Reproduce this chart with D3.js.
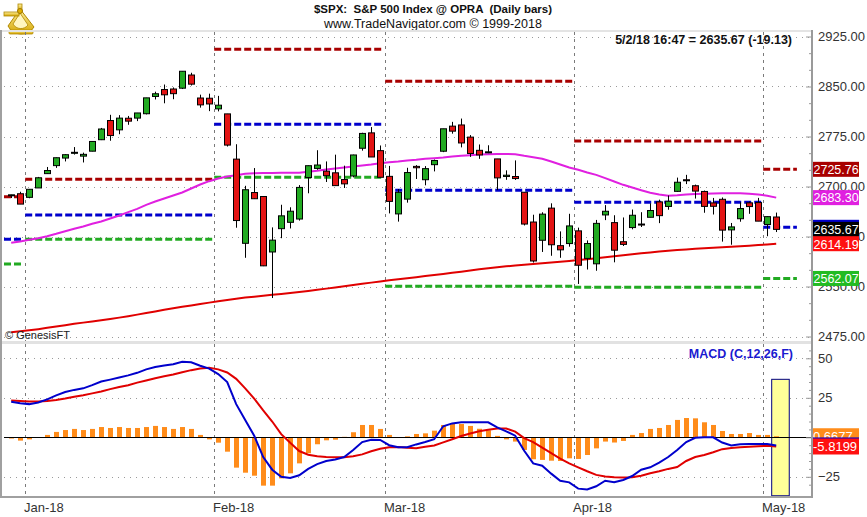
<!DOCTYPE html>
<html><head><meta charset="utf-8">
<script src="https://cdn.jsdelivr.net/npm/d3@7"></script>
<style>body{margin:0;background:#fff;} svg{display:block;font-family:"Liberation Sans",Arial,sans-serif;}</style>
</head><body><svg id="c" width="867" height="517"></svg>
<script>
// ---------------- DATA ----------------
const dates = ['2017-12-28','2017-12-29','2018-01-02','2018-01-03','2018-01-04','2018-01-05','2018-01-08','2018-01-09','2018-01-10','2018-01-11','2018-01-12','2018-01-16','2018-01-17','2018-01-18','2018-01-19','2018-01-22','2018-01-23','2018-01-24','2018-01-25','2018-01-26','2018-01-29','2018-01-30','2018-01-31',
'2018-02-01','2018-02-02','2018-02-05','2018-02-06','2018-02-07','2018-02-08','2018-02-09','2018-02-12','2018-02-13','2018-02-14','2018-02-15','2018-02-16','2018-02-20','2018-02-21','2018-02-22','2018-02-23','2018-02-26','2018-02-27','2018-02-28',
'2018-03-01','2018-03-02','2018-03-05','2018-03-06','2018-03-07','2018-03-08','2018-03-09','2018-03-12','2018-03-13','2018-03-14','2018-03-15','2018-03-16','2018-03-19','2018-03-20','2018-03-21','2018-03-22','2018-03-23','2018-03-26','2018-03-27','2018-03-28','2018-03-29',
'2018-04-02','2018-04-03','2018-04-04','2018-04-05','2018-04-06','2018-04-09','2018-04-10','2018-04-11','2018-04-12','2018-04-13','2018-04-16','2018-04-17','2018-04-18','2018-04-19','2018-04-20','2018-04-23','2018-04-24','2018-04-25','2018-04-26','2018-04-27','2018-04-30',
'2018-05-01','2018-05-02'];

const opens = [2686.10,2689.15,2683.73,2697.85,2719.31,2731.33,2742.67,2751.15,2745.55,2752.97,2770.18,2798.96,2784.99,2802.40,2802.60,2809.16,2835.05,2845.42,2846.24,2847.48,2867.23,2832.74,2832.41,
2816.45,2808.92,2741.06,2614.78,2690.95,2685.01,2601.78,2636.75,2646.27,2651.21,2713.46,2727.14,2722.99,2720.53,2710.42,2715.80,2757.37,2780.45,2753.78,
2715.22,2658.89,2681.06,2730.18,2710.18,2732.75,2752.91,2790.54,2792.31,2774.06,2754.27,2750.57,2741.38,2715.05,2714.99,2691.36,2646.71,2619.35,2667.57,2611.30,2614.41,
2633.45,2592.17,2584.04,2657.36,2645.82,2617.18,2638.41,2643.69,2653.83,2676.90,2670.10,2692.74,2710.11,2701.16,2692.56,2675.40,2680.80,2634.92,2651.65,2675.47,2675.90,
2642.96,2654.24];
const highs = [2687.66,2692.12,2695.89,2714.37,2729.29,2743.45,2748.51,2759.14,2750.80,2767.56,2787.85,2807.54,2807.04,2805.83,2810.33,2833.03,2842.24,2852.97,2848.56,2872.87,2870.62,2837.75,2839.26,
2835.96,2808.92,2763.39,2701.04,2727.67,2685.27,2638.67,2672.61,2668.84,2702.10,2731.51,2754.42,2737.60,2747.75,2731.26,2747.76,2780.64,2789.15,2761.52,
2730.89,2696.25,2728.09,2732.08,2730.60,2740.45,2786.57,2796.98,2801.90,2777.11,2763.03,2761.85,2741.38,2724.22,2739.14,2691.36,2657.67,2661.36,2674.78,2632.65,2659.07,
2638.30,2619.14,2649.86,2672.08,2656.88,2653.55,2665.45,2661.43,2674.72,2680.26,2686.49,2713.34,2717.49,2702.84,2693.94,2682.86,2683.55,2645.30,2676.48,2677.35,2682.92,
2655.27,2660.87];
const lows = [2682.69,2673.61,2682.36,2697.77,2719.07,2727.92,2737.60,2747.86,2736.06,2752.78,2769.64,2768.64,2778.38,2792.56,2798.08,2808.12,2830.59,2824.81,2830.94,2846.18,2851.48,2818.27,2813.04,
2812.70,2759.97,2638.17,2593.07,2681.33,2580.56,2532.69,2622.45,2637.08,2648.87,2689.82,2725.11,2706.76,2701.29,2697.77,2713.74,2753.78,2744.22,2713.54,
2659.65,2647.32,2675.75,2711.26,2701.74,2722.65,2751.54,2779.26,2758.68,2744.38,2741.47,2749.97,2694.59,2710.05,2709.79,2641.59,2585.89,2601.81,2596.12,2593.06,2609.72,
2553.80,2575.49,2573.61,2649.58,2586.27,2610.79,2635.78,2639.25,2653.83,2645.05,2665.16,2692.05,2703.63,2681.90,2660.61,2657.99,2617.32,2612.67,2647.16,2659.01,2648.04,
2625.41,2631.70];
const closes = [2687.54,2673.61,2695.81,2713.06,2723.99,2743.15,2747.71,2751.29,2748.23,2767.56,2786.24,2776.42,2802.56,2798.03,2810.30,2832.97,2839.13,2837.54,2839.25,2872.87,2853.53,2822.43,2823.81,
2821.98,2762.13,2648.94,2695.14,2681.66,2581.00,2619.55,2656.00,2662.94,2698.63,2731.20,2732.22,2716.26,2701.33,2703.96,2747.30,2779.60,2744.28,2713.83,
2677.67,2691.25,2720.94,2728.12,2726.80,2738.97,2786.57,2783.02,2765.31,2749.48,2747.33,2752.01,2712.92,2716.94,2711.93,2643.69,2588.26,2658.55,2612.62,2605.00,2640.87,
2581.88,2614.45,2644.69,2662.84,2604.47,2613.16,2656.87,2642.19,2663.99,2656.30,2677.84,2706.39,2708.64,2693.13,2670.14,2670.29,2634.56,2639.40,2666.94,2669.91,2648.05,
2654.80,2635.67];

const ma50 = [2615.7,2617.5,2620,2622.5,2625.5,2629,2633,2636.5,2640,2644,2647.5,2652,2656.5,2661.5,2666.5,2672.5,2677.5,2682,2686.5,2691,2697,2703,2708,
2712,2715,2717,2719,2720,2720.2,2720.4,2720.5,2720.6,2720.7,2722,2723.5,2725.5,2727,2728.5,2730,2731.5,2733,2735,
2736.5,2737.5,2739,2740,2741.5,2742.5,2743.5,2745,2746,2747,2748,2748.5,2748.7,2748.8,2748.5,2746,2744,2741.5,2737.5,2733,2728.5,
2725,2721,2717.5,2712.5,2707.5,2702.5,2698.5,2694.5,2690.5,2688,2686.3,2687,2688,2688.7,2689.2,2689.5,2689.8,2689.8,2689.8,2689,2688,
2686,2683.3];
const ma200 = [2481.2,2482.7,2484.2,2486,2488,2490,2492,2494,2495.8,2497.6,2499.4,2501.3,2503.3,2505.5,2507.8,2510.2,2512.6,2515,2517.3,2519.5,2521.6,2523.7,2525.8,
2527.8,2529.8,2531.7,2533.4,2534.8,2536.2,2537.6,2538.9,2540.2,2541.6,2543.2,2545,2546.8,2548.6,2550.4,2552.2,2554,2555.8,2557.6,
2559.2,2560.8,2562.4,2564,2565.6,2567.2,2568.9,2570.6,2572.3,2574,2575.7,2577.3,2578.9,2580.2,2581.5,2582.7,2583.9,2585,2586.1,2587.2,2588.4,
2589.6,2591,2592.4,2593.8,2595.2,2596.7,2598.2,2599.7,2601.1,2602.4,2603.6,2604.6,2605.6,2606.5,2607.3,2608.1,2608.9,2609.7,2610.5,2611.3,2612.1,
2613.1,2614.19];

const macdLine = [22.5,21.5,21,22,24,26.5,28.7,30,31,33,35.3,36.5,37.8,39.2,40.8,43,44.5,45.5,46.3,47.8,47.5,45.3,43.5,
40,35,21,11,1,-12.5,-20.5,-25,-25.8,-24,-20,-17,-15,-14,-12.5,-8,-3,-1.5,-1.7,
-5,-6.3,-6.3,-4.5,-3,-1.2,7,8.8,9.5,9.5,9.5,9.5,6.3,3.8,1,-8.5,-16.5,-18,-23,-27.5,-28.5,
-32.5,-33,-31,-27.5,-28.5,-27,-24.5,-20.5,-19,-16,-12.5,-8,-3,-0.3,0,0,-3.3,-5.2,-4.4,-4.2,-4.2,
-4.3,-5.152];
const signalLine = [23.3,23,22.6,22.6,23,23.6,24.5,25.6,26.6,27.8,29,30.5,31.8,33,34.6,36,37.4,38.6,39.8,41.2,42.5,43.6,44,
43,41,37,31,24.5,17,10,2,-3.5,-8.7,-11,-12,-12.4,-12.6,-12.7,-12,-10.8,-8.8,-7.2,
-6.3,-6.2,-6.6,-6.9,-6,-5.2,-3.2,-1.2,0.8,2.4,3.8,4.8,5.5,5.6,3.6,-0.5,-3,-6.5,-10,-13.5,-16.5,
-19,-21.5,-23.8,-24.8,-25.3,-25.4,-25.3,-24.3,-22.8,-21.5,-20,-18.8,-15,-12.5,-11.2,-9.5,-7.5,-6.8,-6.3,-6,-5.7,
-5.3,-5.8199];
const histogram = [-0.8,-2.1,-1.3,-0.3,1.5,3.4,4.6,5.3,4.6,5.3,6.5,5.9,6.5,5.9,5.9,6.5,7.2,6.5,5.3,6.5,5.3,1.5,-1.3,
-3.4,-9.1,-19.2,-22.4,-24.3,-30.6,-30.6,-26,-22.8,-16.5,-10.1,-4.4,-1.9,-1.5,0.3,3.2,7.8,7.8,5.3,
1.5,0,0.6,2.1,2.5,4.2,7.8,8.9,8.4,7.2,5.4,4.4,0.9,-1.3,-2.7,-8,-13.9,-14.3,-14.8,-15,-13.3,
-13.7,-11.2,-7,-2.7,-3.3,-2.3,1.5,2.7,5.3,5.9,7.8,11,12.2,12,9.5,7.8,4,2.1,2.1,2.7,1.5,
1.5,0.6677];

// monthly pivot levels (R1, pivot, S1)
const pivotMonthStarts = ['2017-12-28','2018-01-02','2018-02-01','2018-03-01','2018-04-02','2018-05-01'];
const pivotR1 = [2684.7,2710.8,2905.8,2857.8,2768.3,2725.76];
const pivotPP = [2620.8,2657.3,2793.3,2694.3,2676.3,2638.8];
const pivotS1 = [2583.8,2620.8,2713.8,2550.3,2548.8,2562.07];

const monthLabels = ['Jan-18','Feb-18','Mar-18','Apr-18','May-18'];
const monthStarts = ['2018-01-02','2018-02-01','2018-03-01','2018-04-02','2018-05-01'];
const priceTicks = [2475,2550,2625,2700,2775,2850,2925];
const macdTicks = [-25,0,25,50];
const priceTagValues = [2725.76,2683.30,2638.8,2635.67,2614.19,2562.07];
const priceTagTexts  = ['2725.76','2683.30','','2635.67','2614.19','2562.07'];
const macdTagValues = [0.6677,-5.152,-5.8199];
const macdTagTexts  = ['0.6677','','-5.8199'];
const highlightDate = '2018-05-02';
const highlightRange = [-37, 36.7];
const titleLine1 = '$SPX:  S&P 500 Index @ OPRA  (Daily bars)';
const titleLine2 = 'www.TradeNavigator.com \u00A9 1999-2018';
const lastQuote = '5/2/18 16:47 = 2635.67 (-19.13)';
const macdTitle = 'MACD (C,12,26,F)';
const copyright = '\u00A9 GenesisFT';

// ---------------- LAYOUT / STYLE ----------------
const svg = d3.select('#c');
const L = 4, R = 811, axisX = 812;
const P_TOP = 32, P_BOT = 341, M_TOP = 344, M_BOT = 496;
const idx = d3.range(dates.length);
const x = d3.scalePoint().domain(dates).range([11.2, 776.2]);
const step = x.step();
const yP = d3.scaleLinear().domain([2475, 2925]).range([336.5, 36.5]);
const yM = d3.scaleLinear().domain([-25, 50]).range([476.8, 358.3]);
const C = {green:'#22aa22', red:'#e31414', dkred:'#a80000', blue:'#0000cc', magenta:'#e020e0', orange:'#ff8c1a', grid:'#9a9a9a', text:'#333'};

svg.append('rect').attr('width',867).attr('height',517).attr('fill','#fff');

// logo (sextant)
const logo = svg.append('g').attr('transform','translate(3,3)');
const grad = svg.append('defs').append('linearGradient').attr('id','gold').attr('x1',0).attr('y1',0).attr('x2',0).attr('y2',1);
grad.append('stop').attr('offset','0').attr('stop-color','#fff1a0');
grad.append('stop').attr('offset','1').attr('stop-color','#d4a500');
logo.append('path').attr('d','M17,6 L5,23 A15,15 0 0 0 31,24 Z').attr('fill','url(#gold)').attr('stroke','#b08800').attr('stroke-width',1);
logo.append('path').attr('d','M10,21 A9,9 0 0 0 25,22 L17,10 Z').attr('fill','#fff6c0').attr('stroke','#b08800').attr('stroke-width',0.8);
logo.append('rect').attr('x',1).attr('y',9).attr('width',15).attr('height',4).attr('fill','url(#gold)').attr('stroke','#b08800').attr('stroke-width',0.8);
logo.append('rect').attr('x',15).attr('y',1).attr('width',4).attr('height',7).attr('fill','url(#gold)').attr('stroke','#b08800').attr('stroke-width',0.8);
logo.append('circle').attr('cx',17).attr('cy',8).attr('r',2.5).attr('fill','#e0b000').attr('stroke','#a07800');
logo.append('rect').attr('x',6).attr('y',27).attr('width',24).attr('height',4).attr('rx',1).attr('fill','url(#gold)').attr('stroke','#b08800').attr('stroke-width',0.8);

// titles
svg.append('text').attr('x',433).attr('y',13).attr('text-anchor','middle').attr('font-size',11.5).attr('font-weight','bold').attr('fill','#111').style('white-space','pre').text(titleLine1);
svg.append('text').attr('x',433).attr('y',28).attr('text-anchor','middle').attr('font-size',12.5).attr('fill','#111').text(titleLine2);

// frames
svg.append('line').attr('x1',0).attr('x2',axisX).attr('y1',P_TOP-1).attr('y2',P_TOP-1).attr('stroke','#e4e4e4').attr('stroke-width',2);
svg.append('rect').attr('x',0).attr('y',P_BOT).attr('width',axisX).attr('height',3).attr('fill','#e2e2e2');
svg.append('line').attr('x1',1).attr('x2',1).attr('y1',P_TOP-2).attr('y2',M_BOT+1).attr('stroke','#a0a0a0').attr('stroke-width',2);
svg.append('line').attr('x1',0).attr('x2',axisX+1).attr('y1',M_BOT+1).attr('y2',M_BOT+1).attr('stroke','#a0a0a0').attr('stroke-width',2);

// clips
const defs = svg.append('defs');
defs.append('clipPath').attr('id','cp').append('rect').attr('x',L).attr('y',P_TOP).attr('width',R-L).attr('height',P_BOT-P_TOP);
defs.append('clipPath').attr('id','cm').append('rect').attr('x',L).attr('y',M_TOP).attr('width',R-L).attr('height',M_BOT-M_TOP);

const gp = svg.append('g').attr('clip-path','url(#cp)');
const gm = svg.append('g').attr('clip-path','url(#cm)');

// grids
gp.selectAll('line.hg').data(priceTicks).join('line').attr('class','hg')
  .attr('x1',L).attr('x2',R).attr('y1',d=>Math.round(yP(d))+0.5).attr('y2',d=>Math.round(yP(d))+0.5)
  .attr('stroke',C.grid).attr('stroke-dasharray','1,5');
gm.selectAll('line.hg').data(macdTicks.filter(d=>d!==0)).join('line').attr('class','hg')
  .attr('x1',L).attr('x2',R).attr('y1',d=>Math.round(yM(d))+0.5).attr('y2',d=>Math.round(yM(d))+0.5)
  .attr('stroke',C.grid).attr('stroke-dasharray','1,5');
const monthX = d => Math.round(x(d) - step/2) + 0.5;
[gp, gm].forEach((g,i)=>{
  g.selectAll('line.vg').data(monthStarts).join('line').attr('class','vg')
   .attr('x1',monthX).attr('x2',monthX).attr('y1',i?M_TOP:P_TOP).attr('y2',i?M_BOT:P_BOT)
   .attr('stroke','#7a7a7a').attr('stroke-dasharray','3,4');
});

// pivot dashed segments
const segs = pivotMonthStarts.map((d,i)=>{
  const x0 = i===0 ? L : x(d) - step/2 + 0.5;
  const x1 = i < pivotMonthStarts.length-1 ? x(pivotMonthStarts[i+1]) - step/2 - 1.5 : x(dates[dates.length-1]) + step*2.3;
  return {x0, x1, r1:pivotR1[i], pp:pivotPP[i], s1:pivotS1[i]};
});
[['r1',C.dkred],['pp',C.blue],['s1',C.green]].forEach(([k,col])=>{
  gp.selectAll('line.pv'+k).data(segs).join('line').attr('class','pv'+k)
    .attr('x1',d=>d.x0).attr('x2',d=>d.x1).attr('y1',d=>yP(d[k])).attr('y2',d=>yP(d[k]))
    .attr('stroke',col).attr('stroke-width',3).attr('stroke-dasharray','7,3');
});

// moving averages
const lineP = arr => d3.line().x(i=>x(dates[i])).y(i=>yP(arr[i]))(idx);
gp.append('path').attr('d',lineP(ma200)).attr('fill','none').attr('stroke','#e00000').attr('stroke-width',2);
gp.append('path').attr('d',lineP(ma50)).attr('fill','none').attr('stroke',C.magenta).attr('stroke-width',2);

// candles
const cg = gp.selectAll('g.cdl').data(idx).join('g').attr('class','cdl');
cg.append('line').attr('x1',i=>Math.round(x(dates[i]))+0.5).attr('x2',i=>Math.round(x(dates[i]))+0.5)
  .attr('y1',i=>yP(highs[i])).attr('y2',i=>yP(lows[i])).attr('stroke','#000').attr('stroke-width',1);
cg.append('rect').attr('x',i=>Math.round(x(dates[i]))-2.5).attr('width',6)
  .attr('y',i=>yP(Math.max(opens[i],closes[i])))
  .attr('height',i=>Math.max(1,Math.abs(yP(opens[i])-yP(closes[i]))))
  .attr('fill',i=>closes[i]>=opens[i]?C.green:C.red).attr('stroke','#000').attr('stroke-width',1);

svg.append('text').attr('x',792).attr('y',44).attr('text-anchor','end').attr('font-size',12.5).attr('font-weight','bold').attr('fill','#111').text(lastQuote);
svg.append('text').attr('x',5).attr('y',339).attr('font-size',11).attr('fill','#222').text(copyright);

// MACD panel
const hx = x(highlightDate);
gm.append('rect').attr('x',hx-step/2).attr('width',step*1.95).attr('y',yM(highlightRange[1])).attr('height',yM(highlightRange[0])-yM(highlightRange[1]))
  .attr('fill','#ffff99').attr('stroke','#000080').attr('stroke-width',1);
gm.selectAll('rect.hb').data(idx).join('rect').attr('class','hb')
  .attr('x',i=>Math.round(x(dates[i]))-2).attr('width',5)
  .attr('y',i=>Math.min(yM(histogram[i]),yM(0))).attr('height',i=>Math.abs(yM(histogram[i])-yM(0)))
  .attr('fill',C.orange);
gm.append('line').attr('x1',L).attr('x2',R).attr('y1',Math.round(yM(0))+0.5).attr('y2',Math.round(yM(0))+0.5).attr('stroke','#000').attr('stroke-width',1);
const lineM = arr => d3.line().x(i=>x(dates[i])).y(i=>yM(arr[i]))(idx);
gm.append('path').attr('d',lineM(signalLine)).attr('fill','none').attr('stroke','#e00000').attr('stroke-width',2);
gm.append('path').attr('d',lineM(macdLine)).attr('fill','none').attr('stroke',C.blue).attr('stroke-width',2);
svg.append('text').attr('x',793).attr('y',358).attr('text-anchor','end').attr('font-size',12.5).attr('font-weight','bold').attr('fill','#1a1ad0').text(macdTitle);

// right axes
svg.append('line').attr('x1',axisX).attr('x2',axisX).attr('y1',P_TOP-2).attr('y2',M_BOT+2).attr('stroke','#9a9a9a').attr('stroke-width',2);
const axP = d3.axisRight(yP).tickValues(priceTicks).tickSizeInner(-6).tickSizeOuter(0).tickPadding(6).tickFormat(d3.format('.2f'));
const gax = svg.append('g').attr('transform',`translate(${axisX},0)`).call(axP);
const axPm = d3.axisRight(yP).tickValues(d3.range(2475,2926,25).filter(v=>!priceTicks.includes(v))).tickSizeInner(-3).tickSizeOuter(0).tickFormat('');
const gaxm = svg.append('g').attr('transform',`translate(${axisX},0)`).call(axPm);
const axM = d3.axisRight(yM).tickValues(macdTicks).tickSizeInner(-6).tickSizeOuter(0).tickPadding(6).tickFormat(d3.format('d'));
const gam = svg.append('g').attr('transform',`translate(${axisX},0)`).call(axM);
const axMm = d3.axisRight(yM).tickValues(d3.range(-30,56,5).filter(v=>!macdTicks.includes(v))).tickSizeInner(-3).tickSizeOuter(0).tickFormat('');
const gamm = svg.append('g').attr('transform',`translate(${axisX},0)`).call(axMm);
[gax,gaxm,gam,gamm].forEach(g=>{
  g.select('.domain').remove();
  g.selectAll('.tick line').attr('stroke','#9a9a9a');
  g.selectAll('.tick text').attr('font-size',13).attr('fill',C.text).attr('font-family','"Liberation Sans",Arial,sans-serif');
});

// value tags
const tagColorsP = [C.dkred, C.magenta, C.blue, '#000', '#ff1010', '#22bb22'];
priceTagValues.forEach((v,i)=>{
  const y = yP(v);
  svg.append('rect').attr('x',axisX+1).attr('y',y-7.5).attr('width',46).attr('height',15).attr('fill',tagColorsP[i]);
  if (priceTagTexts[i]) svg.append('text').attr('x',axisX+1.5).attr('y',y+4.8).attr('font-size',12.5).attr('fill','#fff').text(priceTagTexts[i]);
});
const tagColorsM = [C.orange, C.blue, '#ff1010'];
macdTagValues.forEach((v,i)=>{
  const y = yM(v);
  svg.append('rect').attr('x',axisX+1).attr('y',y-8).attr('width',46).attr('height',16).attr('fill',tagColorsM[i]);
  if (macdTagTexts[i]) svg.append('text').attr('x',axisX+1).attr('y',y+5).attr('font-size',13).attr('fill','#fff').text(macdTagTexts[i]);
});

// x labels
svg.selectAll('text.xl').data(monthStarts).join('text').attr('class','xl')
  .attr('x',d=>monthX(d)-1.5).attr('y',512).attr('font-size',13).attr('fill',C.text)
  .text((d,i)=>monthLabels[i]);
</script></body></html>
